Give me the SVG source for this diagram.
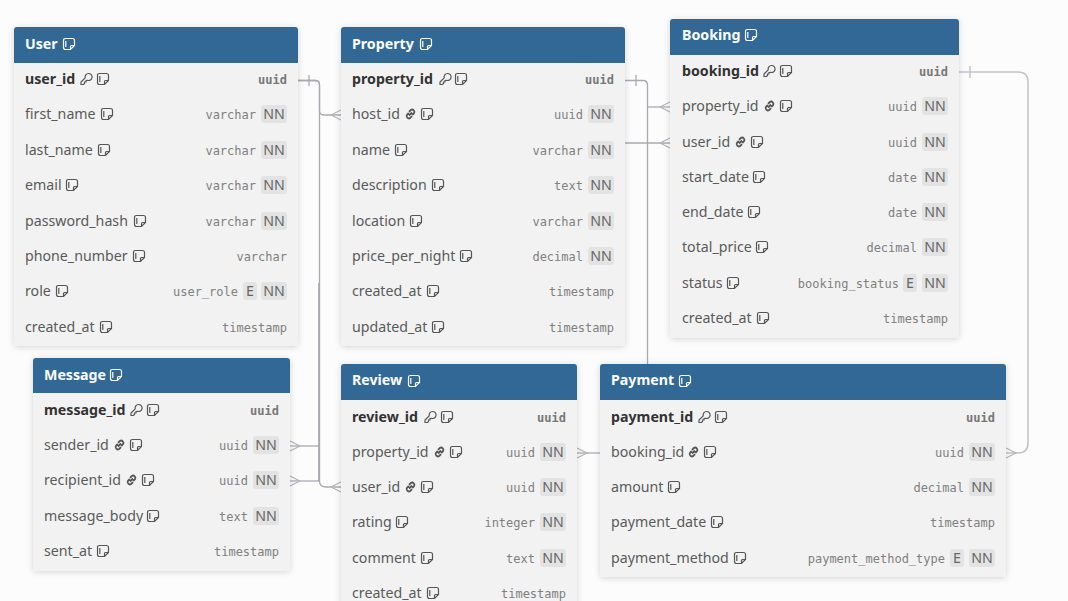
<svg xmlns="http://www.w3.org/2000/svg" width="1068" height="601" viewBox="0 0 1068 601">
<style>
.card{fill:#f2f2f2;filter:url(#sh)}
.hd{fill:#316896}
.ti{font:700 14.2px "Noto Sans",sans-serif;fill:#fff}
.f{font:14.2px "Noto Sans",sans-serif;fill:#5a5a5a}
.pk{font:700 14.2px "Noto Sans",sans-serif;fill:#333}
.t{font:12px "DejaVu Sans Mono",monospace;fill:#808080;text-anchor:end}
.tp{font:700 12px "DejaVu Sans Mono",monospace;fill:#777;text-anchor:end}
.b{fill:#e3e3e3}
.bt{font:14.2px "Noto Sans",sans-serif;fill:#666;text-anchor:middle}
.c{fill:none;stroke:#a9a9b2;stroke-width:1.3}
.a{fill:none;stroke:#b4b4bb;stroke-width:1.2}
.l{stroke:#c2c2c8;stroke-width:1.5}
.ic{fill:none;stroke:#555;stroke-width:1.2}
.icw{fill:none;stroke:#fff;stroke-width:1.2}
</style>
<defs>
<filter id="sh" x="-10%" y="-10%" width="120%" height="120%"><feDropShadow dx="0" dy="1" stdDeviation="3" flood-color="#000" flood-opacity=".16"/></filter>
<g id="note"><path d="M2.500 .5H9.500Q11.500 .5 11.500 2.500V7.500L7.500 11.500H2.500Q.5 11.500 .5 9.500V2.500Q.5 .5 2.500 .5ZM7.500 11.500V8.500Q7.500 7.500 8.500 7.500H11.500M2.800 3V9"/></g>
<g id="key"><path d="M1 11.500V9L5.200 4.800A3.500 3.500 0 1 1 7.500 7.300L6 7.500V9H4.500V10.500L3.500 11.500Z"/></g>
<g id="link"><path d="M5 7.500 8 4.500M4.800 5 3 6.800A2.300 2.300 0 0 0 6.200 10L8 8.200M5 3.800 6.800 2A2.300 2.300 0 0 1 10 5.200L8.200 7" stroke-width="1.800"/></g>
</defs>
<rect width="1068" height="601" fill="#fcfcfc"/>
<g id="connectors">
<path class="c" d="M298 80.500H315Q319.500 80.500 319.500 85V110.500Q319.500 115 324 115H341"/>
<path class="a" d="M341 110 331 115 341 120"/>
<path class="c" d="M298 80.500H315Q319.500 80.500 319.500 85V481Q319.500 487 326 487H341"/>
<path class="c" d="M318.800 283V481"/>
<path class="a" d="M341 482 331 487 341 492"/>
<path class="c" d="M319 446H290"/>
<path class="a" d="M290 441 300 446 290 451"/>
<path class="c" d="M319 481H290"/>
<path class="a" d="M290 476 300 481 290 486"/>
<path class="c" d="M309 75V86"/>
<path class="c" d="M625 80.500H643Q647.500 80.500 647.500 85V364"/>
<path class="c" d="M636 75V86"/>
<path class="c" d="M647.500 107H670"/>
<path class="a" d="M670 102 660 107 670 112"/>
<path class="c" d="M625 143H670"/>
<path class="a" d="M670 138 660 143 670 148"/>
<path class="c" d="M577 453H600"/>
<path class="a" d="M577 448 587 453 577 458"/>
<path class="c l" d="M959 72H1018Q1028 72 1028 82V443Q1028 453 1018 453H1006"/>
<path class="a" d="M1006 448 1016 453 1006 458"/>
<path class="c l" d="M970 66V78"/>
</g>
<g id="user">
<rect class="card" x="14" y="27" width="284" height="319" rx="3"/>
<path class="hd" d="M14 63V30Q14 27 17 27H295Q298 27 298 30V63Z"/>
<text class="ti" x="25" y="49">User</text><use href="#note" class="icw" x="63" y="38"/>
<text class="pk" x="25" y="84">user_id</text><use href="#key" class="ic" x="80" y="73"/><use href="#note" class="ic" x="97" y="73"/><text class="tp" x="287" y="84">uuid</text>
<text class="f" x="25" y="119">first_name</text><use href="#note" class="ic" x="101" y="108"/><text class="t" x="256" y="119">varchar</text><rect class="b" x="261" y="105" width="26" height="18" rx="3"/><text class="bt" x="274" y="119">NN</text>
<text class="f" x="25" y="155">last_name</text><use href="#note" class="ic" x="98" y="144"/><text class="t" x="256" y="155">varchar</text><rect class="b" x="261" y="141" width="26" height="18" rx="3"/><text class="bt" x="274" y="155">NN</text>
<text class="f" x="25" y="190">email</text><use href="#note" class="ic" x="66" y="179"/><text class="t" x="256" y="190">varchar</text><rect class="b" x="261" y="176" width="26" height="18" rx="3"/><text class="bt" x="274" y="190">NN</text>
<text class="f" x="25" y="226">password_hash</text><use href="#note" class="ic" x="134" y="215"/><text class="t" x="256" y="226">varchar</text><rect class="b" x="261" y="212" width="26" height="18" rx="3"/><text class="bt" x="274" y="226">NN</text>
<text class="f" x="25" y="261">phone_number</text><use href="#note" class="ic" x="133" y="250"/><text class="t" x="287" y="261">varchar</text>
<text class="f" x="25" y="296">role</text><use href="#note" class="ic" x="56" y="285"/><text class="t" x="238" y="296">user_role</text><rect class="b" x="243" y="282" width="14" height="18" rx="3"/><text class="bt" x="250" y="296">E</text><rect class="b" x="261" y="282" width="26" height="18" rx="3"/><text class="bt" x="274" y="296">NN</text>
<text class="f" x="25" y="332">created_at</text><use href="#note" class="ic" x="100" y="321"/><text class="t" x="287" y="332">timestamp</text>
</g>
<g id="property">
<rect class="card" x="341" y="27" width="284" height="319" rx="3"/>
<path class="hd" d="M341 63V30Q341 27 344 27H622Q625 27 625 30V63Z"/>
<text class="ti" x="352" y="49">Property</text><use href="#note" class="icw" x="420" y="38"/>
<text class="pk" x="352" y="84">property_id</text><use href="#key" class="ic" x="439" y="73"/><use href="#note" class="ic" x="455" y="73"/><text class="tp" x="614" y="84">uuid</text>
<text class="f" x="352" y="119">host_id</text><use href="#link" class="ic" x="404" y="108"/><use href="#note" class="ic" x="421" y="108"/><text class="t" x="583" y="119">uuid</text><rect class="b" x="588" y="105" width="26" height="18" rx="3"/><text class="bt" x="601" y="119">NN</text>
<text class="f" x="352" y="155">name</text><use href="#note" class="ic" x="395" y="144"/><text class="t" x="583" y="155">varchar</text><rect class="b" x="588" y="141" width="26" height="18" rx="3"/><text class="bt" x="601" y="155">NN</text>
<text class="f" x="352" y="190">description</text><use href="#note" class="ic" x="432" y="179"/><text class="t" x="583" y="190">text</text><rect class="b" x="588" y="176" width="26" height="18" rx="3"/><text class="bt" x="601" y="190">NN</text>
<text class="f" x="352" y="226">location</text><use href="#note" class="ic" x="410" y="215"/><text class="t" x="583" y="226">varchar</text><rect class="b" x="588" y="212" width="26" height="18" rx="3"/><text class="bt" x="601" y="226">NN</text>
<text class="f" x="352" y="261">price_per_night</text><use href="#note" class="ic" x="460" y="250"/><text class="t" x="583" y="261">decimal</text><rect class="b" x="588" y="247" width="26" height="18" rx="3"/><text class="bt" x="601" y="261">NN</text>
<text class="f" x="352" y="296">created_at</text><use href="#note" class="ic" x="427" y="285"/><text class="t" x="614" y="296">timestamp</text>
<text class="f" x="352" y="332">updated_at</text><use href="#note" class="ic" x="432" y="321"/><text class="t" x="614" y="332">timestamp</text>
</g>
<g id="booking">
<rect class="card" x="670" y="19" width="289" height="319" rx="3"/>
<path class="hd" d="M670 55V22Q670 19 673 19H956Q959 19 959 22V55Z"/>
<text class="ti" x="682" y="40">Booking</text><use href="#note" class="icw" x="745" y="29"/>
<text class="pk" x="682" y="76">booking_id</text><use href="#key" class="ic" x="763" y="65"/><use href="#note" class="ic" x="780" y="65"/><text class="tp" x="948" y="76">uuid</text>
<text class="f" x="682" y="111">property_id</text><use href="#link" class="ic" x="763" y="100"/><use href="#note" class="ic" x="780" y="100"/><text class="t" x="917" y="111">uuid</text><rect class="b" x="922" y="97" width="26" height="18" rx="3"/><text class="bt" x="935" y="111">NN</text>
<text class="f" x="682" y="147">user_id</text><use href="#link" class="ic" x="734" y="136"/><use href="#note" class="ic" x="751" y="136"/><text class="t" x="917" y="147">uuid</text><rect class="b" x="922" y="133" width="26" height="18" rx="3"/><text class="bt" x="935" y="147">NN</text>
<text class="f" x="682" y="182">start_date</text><use href="#note" class="ic" x="753" y="171"/><text class="t" x="917" y="182">date</text><rect class="b" x="922" y="168" width="26" height="18" rx="3"/><text class="bt" x="935" y="182">NN</text>
<text class="f" x="682" y="217">end_date</text><use href="#note" class="ic" x="748" y="206"/><text class="t" x="917" y="217">date</text><rect class="b" x="922" y="203" width="26" height="18" rx="3"/><text class="bt" x="935" y="217">NN</text>
<text class="f" x="682" y="252">total_price</text><use href="#note" class="ic" x="756" y="241"/><text class="t" x="917" y="252">decimal</text><rect class="b" x="922" y="238" width="26" height="18" rx="3"/><text class="bt" x="935" y="252">NN</text>
<text class="f" x="682" y="288">status</text><use href="#note" class="ic" x="727" y="277"/><text class="t" x="899" y="288">booking_status</text><rect class="b" x="903" y="274" width="14" height="18" rx="3"/><text class="bt" x="910" y="288">E</text><rect class="b" x="922" y="274" width="26" height="18" rx="3"/><text class="bt" x="935" y="288">NN</text>
<text class="f" x="682" y="323">created_at</text><use href="#note" class="ic" x="757" y="312"/><text class="t" x="948" y="323">timestamp</text>
</g>
<g id="message">
<rect class="card" x="33" y="358" width="257" height="213" rx="3"/>
<path class="hd" d="M33 393V361Q33 358 36 358H287Q290 358 290 361V393Z"/>
<text class="ti" x="44" y="380">Message</text><use href="#note" class="icw" x="110" y="369"/>
<text class="pk" x="44" y="415">message_id</text><use href="#key" class="ic" x="130" y="404"/><use href="#note" class="ic" x="147" y="404"/><text class="tp" x="279" y="415">uuid</text>
<text class="f" x="44" y="450">sender_id</text><use href="#link" class="ic" x="113" y="439"/><use href="#note" class="ic" x="130" y="439"/><text class="t" x="248" y="450">uuid</text><rect class="b" x="253" y="436" width="26" height="18" rx="3"/><text class="bt" x="266" y="450">NN</text>
<text class="f" x="44" y="485">recipient_id</text><use href="#link" class="ic" x="125" y="474"/><use href="#note" class="ic" x="142" y="474"/><text class="t" x="248" y="485">uuid</text><rect class="b" x="253" y="471" width="26" height="18" rx="3"/><text class="bt" x="266" y="485">NN</text>
<text class="f" x="44" y="521">message_body</text><use href="#note" class="ic" x="147" y="510"/><text class="t" x="248" y="521">text</text><rect class="b" x="253" y="507" width="26" height="18" rx="3"/><text class="bt" x="266" y="521">NN</text>
<text class="f" x="44" y="556">sent_at</text><use href="#note" class="ic" x="97" y="545"/><text class="t" x="279" y="556">timestamp</text>
</g>
<g id="review">
<rect class="card" x="341" y="364" width="236" height="250" rx="3"/>
<path class="hd" d="M341 400V367Q341 364 344 364H574Q577 364 577 367V400Z"/>
<text class="ti" x="352" y="385">Review</text><use href="#note" class="icw" x="408" y="375"/>
<text class="pk" x="352" y="422">review_id</text><use href="#key" class="ic" x="424" y="411"/><use href="#note" class="ic" x="441" y="411"/><text class="tp" x="566" y="422">uuid</text>
<text class="f" x="352" y="457">property_id</text><use href="#link" class="ic" x="433" y="446"/><use href="#note" class="ic" x="450" y="446"/><text class="t" x="535" y="457">uuid</text><rect class="b" x="540" y="443" width="26" height="18" rx="3"/><text class="bt" x="553" y="457">NN</text>
<text class="f" x="352" y="492">user_id</text><use href="#link" class="ic" x="404" y="481"/><use href="#note" class="ic" x="421" y="481"/><text class="t" x="535" y="492">uuid</text><rect class="b" x="540" y="478" width="26" height="18" rx="3"/><text class="bt" x="553" y="492">NN</text>
<text class="f" x="352" y="527">rating</text><use href="#note" class="ic" x="396" y="516"/><text class="t" x="535" y="527">integer</text><rect class="b" x="540" y="513" width="26" height="18" rx="3"/><text class="bt" x="553" y="527">NN</text>
<text class="f" x="352" y="563">comment</text><use href="#note" class="ic" x="421" y="552"/><text class="t" x="535" y="563">text</text><rect class="b" x="540" y="549" width="26" height="18" rx="3"/><text class="bt" x="553" y="563">NN</text>
<text class="f" x="352" y="598">created_at</text><use href="#note" class="ic" x="427" y="587"/><text class="t" x="566" y="598">timestamp</text>
</g>
<g id="payment">
<rect class="card" x="600" y="364" width="406" height="213" rx="3"/>
<path class="hd" d="M600 400V367Q600 364 603 364H1003Q1006 364 1006 367V400Z"/>
<text class="ti" x="611" y="385">Payment</text><use href="#note" class="icw" x="679" y="375"/>
<text class="pk" x="611" y="422">payment_id</text><use href="#key" class="ic" x="698" y="411"/><use href="#note" class="ic" x="715" y="411"/><text class="tp" x="995" y="422">uuid</text>
<text class="f" x="611" y="457">booking_id</text><use href="#link" class="ic" x="687" y="446"/><use href="#note" class="ic" x="704" y="446"/><text class="t" x="964" y="457">uuid</text><rect class="b" x="969" y="443" width="26" height="18" rx="3"/><text class="bt" x="982" y="457">NN</text>
<text class="f" x="611" y="492">amount</text><use href="#note" class="ic" x="668" y="481"/><text class="t" x="964" y="492">decimal</text><rect class="b" x="969" y="478" width="26" height="18" rx="3"/><text class="bt" x="982" y="492">NN</text>
<text class="f" x="611" y="527">payment_date</text><use href="#note" class="ic" x="711" y="516"/><text class="t" x="995" y="527">timestamp</text>
<text class="f" x="611" y="563">payment_method</text><use href="#note" class="ic" x="734" y="552"/><text class="t" x="945" y="563">payment_method_type</text><rect class="b" x="950" y="549" width="14" height="18" rx="3"/><text class="bt" x="957" y="563">E</text><rect class="b" x="969" y="549" width="26" height="18" rx="3"/><text class="bt" x="982" y="563">NN</text>
</g>
</svg>
